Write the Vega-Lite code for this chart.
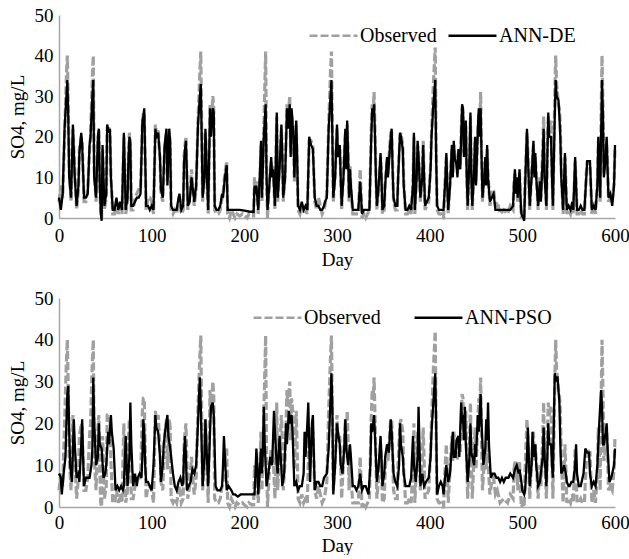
{
"$schema": "https://vega.github.io/schema/vega-lite/v6.json",
"background": "white",
"padding": {"left": 8, "top": 6, "right": 0, "bottom": 0},
"spacing": 20,
"config": {
  "font": "Liberation Serif",
  "view": {"stroke": null},
  "axis": {"grid": false, "ticks": false, "domainColor": "#a6a6a6", "domainWidth": 1.5, "labelFont": "Liberation Serif", "labelFontSize": 19, "labelColor": "#000000", "titleFont": "Liberation Serif", "titleFontSize": 19, "titleFontWeight": "normal", "titleColor": "#000000"},
  "legend": {"labelFont": "Liberation Serif", "labelFontSize": 20, "labelColor": "#000000", "symbolType": "stroke", "symbolSize": 2300, "symbolStrokeWidth": 2.6, "labelOffset": 1, "title": null, "direction": "horizontal", "orient": "none"}
},
"resolve": {"scale": {"color": "independent"}, "legend": {"color": "independent"}},
"datasets": {
"obs": [{"d":0,"v":4},{"d":2,"v":8},{"d":4,"v":5},{"d":6,"v":20},{"d":8,"v":35},{"d":9,"v":40},{"d":10,"v":28},{"d":11,"v":12},{"d":13,"v":4},{"d":15,"v":22},{"d":17,"v":12},{"d":19,"v":2},{"d":21,"v":7},{"d":22,"v":17},{"d":24,"v":20},{"d":25,"v":19},{"d":27,"v":4},{"d":29,"v":4},{"d":31,"v":7},{"d":33,"v":17},{"d":34,"v":20},{"d":36,"v":35},{"d":37,"v":40},{"d":38,"v":12},{"d":40,"v":4},{"d":42,"v":19},{"d":43,"v":22},{"d":44,"v":9},{"d":45,"v":1},{"d":46,"v":0},{"d":47,"v":17},{"d":48,"v":11},{"d":49,"v":2},{"d":51,"v":5},{"d":52,"v":22},{"d":54,"v":22},{"d":55,"v":21},{"d":56,"v":11},{"d":58,"v":1},{"d":60,"v":1},{"d":62,"v":4},{"d":64,"v":1},{"d":66,"v":3},{"d":68,"v":1},{"d":70,"v":20},{"d":72,"v":1},{"d":74,"v":4},{"d":75,"v":16},{"d":76,"v":21},{"d":77,"v":19},{"d":78,"v":2},{"d":80,"v":2},{"d":82,"v":5},{"d":84,"v":6},{"d":86,"v":7},{"d":88,"v":7},{"d":90,"v":23},{"d":91,"v":26},{"d":92,"v":26},{"d":93,"v":14},{"d":94,"v":2},{"d":96,"v":5},{"d":98,"v":5},{"d":100,"v":4},{"d":102,"v":1},{"d":104,"v":23},{"d":105,"v":21},{"d":107,"v":22},{"d":109,"v":14},{"d":110,"v":6},{"d":112,"v":4},{"d":114,"v":17},{"d":116,"v":21},{"d":117,"v":9},{"d":119,"v":21},{"d":120,"v":19},{"d":121,"v":2},{"d":123,"v":1},{"d":125,"v":2},{"d":127,"v":1},{"d":129,"v":4},{"d":130,"v":5},{"d":132,"v":1},{"d":134,"v":2},{"d":135,"v":15},{"d":136,"v":18},{"d":137,"v":20},{"d":139,"v":2},{"d":141,"v":5},{"d":143,"v":12},{"d":145,"v":5},{"d":146,"v":3},{"d":148,"v":7},{"d":150,"v":24},{"d":152,"v":36},{"d":153,"v":41},{"d":154,"v":22},{"d":155,"v":4},{"d":157,"v":11},{"d":158,"v":21},{"d":160,"v":7},{"d":161,"v":1},{"d":163,"v":28},{"d":164,"v":22},{"d":166,"v":30},{"d":167,"v":27},{"d":168,"v":2},{"d":170,"v":1},{"d":172,"v":1},{"d":174,"v":2},{"d":176,"v":5},{"d":177,"v":6},{"d":179,"v":11},{"d":181,"v":14},{"d":182,"v":1},{"d":184,"v":0},{"d":186,"v":2},{"d":188,"v":1},{"d":190,"v":0},{"d":192,"v":1},{"d":195,"v":0.5},{"d":198,"v":1},{"d":200,"v":0.5},{"d":203,"v":0},{"d":205,"v":1},{"d":208,"v":0.5},{"d":210,"v":0.5},{"d":211,"v":10},{"d":212,"v":7},{"d":213,"v":9},{"d":215,"v":1},{"d":217,"v":11},{"d":218,"v":18},{"d":219,"v":4},{"d":221,"v":22},{"d":223,"v":41},{"d":224,"v":12},{"d":225,"v":0},{"d":227,"v":9},{"d":229,"v":14},{"d":230,"v":11},{"d":231,"v":13},{"d":233,"v":2},{"d":235,"v":25},{"d":236,"v":4},{"d":238,"v":13},{"d":240,"v":22},{"d":241,"v":16},{"d":242,"v":4},{"d":244,"v":11},{"d":246,"v":28},{"d":247,"v":24},{"d":249,"v":30},{"d":250,"v":16},{"d":251,"v":26},{"d":253,"v":21},{"d":254,"v":9},{"d":256,"v":23},{"d":257,"v":14},{"d":258,"v":2},{"d":260,"v":1},{"d":262,"v":3},{"d":264,"v":1},{"d":266,"v":2},{"d":268,"v":1},{"d":270,"v":19},{"d":272,"v":19},{"d":274,"v":18},{"d":276,"v":4},{"d":278,"v":2},{"d":280,"v":5},{"d":282,"v":3},{"d":284,"v":1},{"d":286,"v":2},{"d":287,"v":3},{"d":289,"v":6},{"d":291,"v":23},{"d":293,"v":36},{"d":294,"v":41},{"d":295,"v":22},{"d":296,"v":4},{"d":298,"v":11},{"d":300,"v":22},{"d":301,"v":16},{"d":303,"v":17},{"d":304,"v":11},{"d":305,"v":2},{"d":307,"v":11},{"d":309,"v":21},{"d":310,"v":13},{"d":311,"v":23},{"d":312,"v":16},{"d":313,"v":4},{"d":314,"v":13},{"d":315,"v":7},{"d":317,"v":1},{"d":319,"v":1},{"d":321,"v":1},{"d":323,"v":1},{"d":325,"v":12},{"d":327,"v":0},{"d":329,"v":1},{"d":331,"v":0},{"d":333,"v":1},{"d":335,"v":2},{"d":337,"v":22},{"d":338,"v":28},{"d":339,"v":26},{"d":340,"v":31},{"d":341,"v":22},{"d":342,"v":11},{"d":343,"v":2},{"d":345,"v":7},{"d":347,"v":15},{"d":348,"v":11},{"d":349,"v":1},{"d":351,"v":2},{"d":352,"v":9},{"d":354,"v":14},{"d":355,"v":11},{"d":357,"v":18},{"d":358,"v":21},{"d":359,"v":21},{"d":360,"v":13},{"d":361,"v":4},{"d":363,"v":2},{"d":365,"v":2},{"d":366,"v":11},{"d":368,"v":20},{"d":369,"v":21},{"d":371,"v":18},{"d":372,"v":9},{"d":374,"v":1},{"d":376,"v":1},{"d":378,"v":2},{"d":380,"v":1},{"d":382,"v":9},{"d":383,"v":20},{"d":384,"v":1},{"d":386,"v":11},{"d":387,"v":18},{"d":388,"v":16},{"d":390,"v":4},{"d":392,"v":11},{"d":393,"v":19},{"d":394,"v":11},{"d":395,"v":2},{"d":397,"v":3},{"d":399,"v":4},{"d":401,"v":13},{"d":402,"v":21},{"d":404,"v":33},{"d":406,"v":42},{"d":407,"v":17},{"d":408,"v":2},{"d":410,"v":1},{"d":412,"v":1},{"d":414,"v":0},{"d":415,"v":0},{"d":417,"v":11},{"d":418,"v":15},{"d":419,"v":9},{"d":420,"v":1},{"d":422,"v":9},{"d":424,"v":17},{"d":425,"v":11},{"d":426,"v":18},{"d":427,"v":16},{"d":429,"v":14},{"d":430,"v":11},{"d":431,"v":16},{"d":433,"v":13},{"d":434,"v":21},{"d":435,"v":27},{"d":436,"v":26},{"d":437,"v":16},{"d":439,"v":23},{"d":440,"v":11},{"d":441,"v":2},{"d":443,"v":14},{"d":444,"v":25},{"d":445,"v":11},{"d":446,"v":2},{"d":448,"v":13},{"d":449,"v":19},{"d":450,"v":9},{"d":452,"v":21},{"d":453,"v":26},{"d":454,"v":22},{"d":455,"v":31},{"d":456,"v":16},{"d":457,"v":4},{"d":459,"v":11},{"d":460,"v":14},{"d":461,"v":9},{"d":462,"v":17},{"d":463,"v":11},{"d":465,"v":3},{"d":467,"v":6},{"d":469,"v":7},{"d":471,"v":3},{"d":473,"v":4},{"d":476,"v":1},{"d":480,"v":2},{"d":484,"v":1},{"d":487,"v":3},{"d":490,"v":2},{"d":491,"v":9},{"d":492,"v":11},{"d":493,"v":7},{"d":494,"v":9},{"d":495,"v":4},{"d":497,"v":11},{"d":498,"v":4},{"d":499,"v":0},{"d":501,"v":1},{"d":502,"v":0},{"d":503,"v":9},{"d":505,"v":21},{"d":506,"v":16},{"d":508,"v":2},{"d":510,"v":11},{"d":512,"v":18},{"d":513,"v":11},{"d":514,"v":15},{"d":515,"v":11},{"d":517,"v":2},{"d":519,"v":10},{"d":520,"v":5},{"d":522,"v":17},{"d":523,"v":25},{"d":524,"v":12},{"d":526,"v":2},{"d":527,"v":17},{"d":528,"v":25},{"d":529,"v":22},{"d":531,"v":24},{"d":532,"v":12},{"d":533,"v":2},{"d":535,"v":30},{"d":536,"v":40},{"d":537,"v":33},{"d":539,"v":28},{"d":540,"v":27},{"d":541,"v":23},{"d":542,"v":12},{"d":544,"v":1},{"d":546,"v":15},{"d":547,"v":9},{"d":548,"v":1},{"d":550,"v":2},{"d":552,"v":1},{"d":554,"v":3},{"d":555,"v":1},{"d":557,"v":14},{"d":558,"v":9},{"d":559,"v":1},{"d":561,"v":1},{"d":563,"v":2},{"d":565,"v":1},{"d":567,"v":1},{"d":569,"v":11},{"d":570,"v":14},{"d":572,"v":13},{"d":573,"v":13},{"d":574,"v":7},{"d":575,"v":1},{"d":577,"v":4},{"d":579,"v":1},{"d":581,"v":9},{"d":582,"v":19},{"d":583,"v":14},{"d":584,"v":4},{"d":585,"v":25},{"d":586,"v":40},{"d":587,"v":28},{"d":588,"v":11},{"d":590,"v":14},{"d":591,"v":19},{"d":592,"v":13},{"d":593,"v":4},{"d":595,"v":5},{"d":597,"v":4},{"d":599,"v":9},{"d":600,"v":17}],
"de": [{"d":0,"v":5},{"d":2,"v":2},{"d":4,"v":6},{"d":6,"v":22},{"d":8,"v":30},{"d":9,"v":34},{"d":10,"v":25},{"d":11,"v":10},{"d":13,"v":5},{"d":15,"v":23},{"d":17,"v":10},{"d":19,"v":3},{"d":21,"v":8},{"d":22,"v":16},{"d":24,"v":21},{"d":25,"v":18},{"d":27,"v":5},{"d":29,"v":5},{"d":31,"v":6},{"d":33,"v":18},{"d":34,"v":20},{"d":36,"v":30},{"d":37,"v":34},{"d":38,"v":10},{"d":40,"v":5},{"d":42,"v":20},{"d":43,"v":22},{"d":44,"v":8},{"d":45,"v":2},{"d":46,"v":-0.7},{"d":47,"v":18},{"d":48,"v":10},{"d":49,"v":3},{"d":51,"v":6},{"d":52,"v":23},{"d":54,"v":21},{"d":55,"v":22},{"d":56,"v":10},{"d":58,"v":2},{"d":60,"v":2},{"d":62,"v":5},{"d":64,"v":2},{"d":66,"v":4},{"d":68,"v":2},{"d":70,"v":21},{"d":72,"v":2},{"d":74,"v":5},{"d":75,"v":15},{"d":76,"v":20},{"d":77,"v":18},{"d":78,"v":3},{"d":80,"v":3},{"d":82,"v":4},{"d":84,"v":5},{"d":86,"v":5},{"d":88,"v":6},{"d":90,"v":24},{"d":91,"v":25},{"d":92,"v":27},{"d":93,"v":15},{"d":94,"v":3},{"d":96,"v":3},{"d":98,"v":2},{"d":100,"v":3},{"d":102,"v":2},{"d":104,"v":22},{"d":105,"v":20},{"d":107,"v":21},{"d":109,"v":15},{"d":110,"v":7},{"d":112,"v":5},{"d":114,"v":18},{"d":116,"v":22},{"d":117,"v":8},{"d":119,"v":22},{"d":120,"v":18},{"d":121,"v":3},{"d":123,"v":2},{"d":125,"v":2},{"d":127,"v":2},{"d":129,"v":5},{"d":130,"v":6},{"d":132,"v":2},{"d":134,"v":3},{"d":135,"v":14},{"d":136,"v":17},{"d":137,"v":19},{"d":139,"v":3},{"d":141,"v":4},{"d":143,"v":10},{"d":145,"v":6},{"d":146,"v":4},{"d":148,"v":8},{"d":150,"v":23},{"d":152,"v":30},{"d":153,"v":33},{"d":154,"v":20},{"d":155,"v":5},{"d":157,"v":10},{"d":158,"v":22},{"d":160,"v":8},{"d":161,"v":2},{"d":163,"v":27},{"d":164,"v":20},{"d":166,"v":27},{"d":167,"v":26},{"d":168,"v":3},{"d":170,"v":2},{"d":172,"v":2},{"d":174,"v":3},{"d":176,"v":6},{"d":177,"v":5},{"d":179,"v":10},{"d":181,"v":13},{"d":182,"v":2},{"d":184,"v":2},{"d":186,"v":2},{"d":188,"v":2},{"d":190,"v":2},{"d":195,"v":2},{"d":200,"v":1.8},{"d":205,"v":1.6},{"d":210,"v":1.5},{"d":211,"v":8},{"d":212,"v":6},{"d":213,"v":8},{"d":215,"v":2},{"d":217,"v":12},{"d":218,"v":19},{"d":219,"v":5},{"d":221,"v":20},{"d":223,"v":28},{"d":224,"v":10},{"d":225,"v":2},{"d":227,"v":8},{"d":229,"v":15},{"d":230,"v":10},{"d":231,"v":12},{"d":233,"v":3},{"d":235,"v":26},{"d":236,"v":5},{"d":238,"v":12},{"d":240,"v":23},{"d":241,"v":15},{"d":242,"v":5},{"d":244,"v":10},{"d":246,"v":27},{"d":247,"v":22},{"d":249,"v":28},{"d":250,"v":15},{"d":251,"v":27},{"d":253,"v":20},{"d":254,"v":10},{"d":256,"v":24},{"d":257,"v":15},{"d":258,"v":3},{"d":260,"v":2},{"d":262,"v":4},{"d":264,"v":2},{"d":266,"v":3},{"d":268,"v":2},{"d":270,"v":20},{"d":272,"v":18},{"d":274,"v":17},{"d":276,"v":5},{"d":278,"v":3},{"d":280,"v":3},{"d":282,"v":2},{"d":284,"v":2},{"d":286,"v":3},{"d":287,"v":4},{"d":289,"v":5},{"d":291,"v":22},{"d":293,"v":30},{"d":294,"v":34},{"d":295,"v":20},{"d":296,"v":5},{"d":298,"v":10},{"d":300,"v":23},{"d":301,"v":15},{"d":303,"v":18},{"d":304,"v":10},{"d":305,"v":3},{"d":307,"v":10},{"d":309,"v":22},{"d":310,"v":12},{"d":311,"v":24},{"d":312,"v":15},{"d":313,"v":5},{"d":314,"v":12},{"d":315,"v":8},{"d":317,"v":2},{"d":319,"v":2},{"d":321,"v":2},{"d":323,"v":2},{"d":325,"v":9},{"d":327,"v":1},{"d":329,"v":2},{"d":331,"v":2},{"d":333,"v":2},{"d":335,"v":2},{"d":337,"v":20},{"d":338,"v":27},{"d":339,"v":25},{"d":340,"v":28},{"d":341,"v":20},{"d":342,"v":10},{"d":343,"v":3},{"d":345,"v":8},{"d":347,"v":16},{"d":348,"v":10},{"d":349,"v":2},{"d":351,"v":3},{"d":352,"v":8},{"d":354,"v":15},{"d":355,"v":10},{"d":357,"v":17},{"d":358,"v":20},{"d":359,"v":22},{"d":360,"v":12},{"d":361,"v":5},{"d":363,"v":3},{"d":365,"v":3},{"d":366,"v":10},{"d":368,"v":21},{"d":369,"v":20},{"d":371,"v":17},{"d":372,"v":8},{"d":374,"v":2},{"d":376,"v":2},{"d":378,"v":3},{"d":380,"v":2},{"d":382,"v":8},{"d":383,"v":21},{"d":384,"v":2},{"d":386,"v":10},{"d":387,"v":19},{"d":388,"v":15},{"d":390,"v":5},{"d":392,"v":10},{"d":393,"v":18},{"d":394,"v":10},{"d":395,"v":3},{"d":397,"v":4},{"d":399,"v":5},{"d":401,"v":12},{"d":402,"v":20},{"d":404,"v":28},{"d":406,"v":34},{"d":407,"v":15},{"d":408,"v":3},{"d":410,"v":2},{"d":412,"v":2},{"d":414,"v":2},{"d":415,"v":2},{"d":417,"v":10},{"d":418,"v":16},{"d":419,"v":8},{"d":420,"v":2},{"d":422,"v":8},{"d":424,"v":18},{"d":425,"v":10},{"d":426,"v":19},{"d":427,"v":15},{"d":429,"v":13},{"d":430,"v":10},{"d":431,"v":17},{"d":433,"v":12},{"d":434,"v":20},{"d":435,"v":28},{"d":436,"v":27},{"d":437,"v":15},{"d":439,"v":24},{"d":440,"v":10},{"d":441,"v":3},{"d":443,"v":15},{"d":444,"v":26},{"d":445,"v":10},{"d":446,"v":3},{"d":448,"v":12},{"d":449,"v":20},{"d":450,"v":8},{"d":452,"v":22},{"d":453,"v":27},{"d":454,"v":20},{"d":455,"v":27},{"d":456,"v":15},{"d":457,"v":5},{"d":459,"v":10},{"d":460,"v":15},{"d":461,"v":8},{"d":462,"v":18},{"d":463,"v":10},{"d":465,"v":4},{"d":467,"v":5},{"d":469,"v":6},{"d":471,"v":2},{"d":473,"v":2},{"d":476,"v":2},{"d":480,"v":2},{"d":484,"v":2},{"d":487,"v":2},{"d":490,"v":3},{"d":491,"v":8},{"d":492,"v":12},{"d":493,"v":6},{"d":494,"v":10},{"d":495,"v":5},{"d":497,"v":12},{"d":498,"v":5},{"d":499,"v":1},{"d":501,"v":0},{"d":502,"v":-0.7},{"d":503,"v":8},{"d":505,"v":22},{"d":506,"v":15},{"d":508,"v":3},{"d":510,"v":10},{"d":512,"v":19},{"d":513,"v":10},{"d":514,"v":16},{"d":515,"v":10},{"d":517,"v":3},{"d":519,"v":9},{"d":520,"v":4},{"d":522,"v":15},{"d":523,"v":22},{"d":524,"v":10},{"d":526,"v":3},{"d":527,"v":15},{"d":528,"v":26},{"d":529,"v":20},{"d":531,"v":20},{"d":532,"v":10},{"d":533,"v":3},{"d":535,"v":25},{"d":536,"v":34},{"d":537,"v":30},{"d":539,"v":29},{"d":540,"v":25},{"d":541,"v":20},{"d":542,"v":10},{"d":544,"v":2},{"d":546,"v":16},{"d":547,"v":8},{"d":548,"v":2},{"d":550,"v":3},{"d":552,"v":2},{"d":554,"v":4},{"d":555,"v":2},{"d":557,"v":15},{"d":558,"v":8},{"d":559,"v":2},{"d":561,"v":2},{"d":563,"v":3},{"d":565,"v":2},{"d":567,"v":2},{"d":569,"v":10},{"d":570,"v":14},{"d":572,"v":14},{"d":573,"v":14},{"d":574,"v":8},{"d":575,"v":2},{"d":577,"v":3},{"d":579,"v":2},{"d":581,"v":8},{"d":582,"v":20},{"d":583,"v":15},{"d":584,"v":5},{"d":585,"v":20},{"d":586,"v":34},{"d":587,"v":25},{"d":588,"v":10},{"d":590,"v":15},{"d":591,"v":20},{"d":592,"v":12},{"d":593,"v":5},{"d":595,"v":6},{"d":597,"v":3},{"d":599,"v":8},{"d":600,"v":18}],
"pso": [{"d":0,"v":8},{"d":2,"v":7},{"d":3,"v":3},{"d":5,"v":8},{"d":7,"v":12},{"d":8,"v":20},{"d":9,"v":27},{"d":10,"v":29},{"d":11,"v":18},{"d":12,"v":10},{"d":14,"v":6},{"d":16,"v":21},{"d":17,"v":15},{"d":19,"v":7},{"d":21,"v":8},{"d":22,"v":6},{"d":24,"v":15},{"d":25,"v":21},{"d":26,"v":12},{"d":27,"v":5},{"d":29,"v":7},{"d":31,"v":7},{"d":33,"v":7},{"d":35,"v":10},{"d":36,"v":14},{"d":37,"v":31},{"d":38,"v":20},{"d":40,"v":10},{"d":42,"v":12},{"d":43,"v":20},{"d":44,"v":15},{"d":46,"v":14},{"d":48,"v":7},{"d":50,"v":8},{"d":51,"v":10},{"d":53,"v":18},{"d":54,"v":15},{"d":56,"v":22},{"d":57,"v":18},{"d":59,"v":14},{"d":61,"v":4},{"d":63,"v":5},{"d":65,"v":4},{"d":67,"v":5},{"d":69,"v":4},{"d":70,"v":5},{"d":72,"v":17},{"d":73,"v":10},{"d":74,"v":5},{"d":76,"v":12},{"d":77,"v":25},{"d":78,"v":15},{"d":80,"v":5},{"d":82,"v":8},{"d":84,"v":5},{"d":85,"v":7},{"d":87,"v":8},{"d":89,"v":7},{"d":90,"v":12},{"d":91,"v":21},{"d":92,"v":18},{"d":93,"v":10},{"d":94,"v":6},{"d":96,"v":6},{"d":98,"v":5},{"d":100,"v":4},{"d":102,"v":10},{"d":104,"v":22},{"d":105,"v":19},{"d":107,"v":18},{"d":109,"v":12},{"d":110,"v":6},{"d":112,"v":10},{"d":113,"v":15},{"d":115,"v":19},{"d":117,"v":22},{"d":118,"v":17},{"d":120,"v":14},{"d":122,"v":10},{"d":123,"v":8},{"d":125,"v":5},{"d":127,"v":4},{"d":129,"v":6},{"d":131,"v":7},{"d":133,"v":5},{"d":134,"v":6},{"d":135,"v":13},{"d":136,"v":17},{"d":137,"v":12},{"d":138,"v":4},{"d":140,"v":5},{"d":142,"v":6},{"d":144,"v":9},{"d":146,"v":8},{"d":148,"v":10},{"d":150,"v":20},{"d":151,"v":26},{"d":152,"v":31},{"d":153,"v":24},{"d":155,"v":5},{"d":157,"v":12},{"d":158,"v":21},{"d":159,"v":15},{"d":161,"v":5},{"d":163,"v":18},{"d":164,"v":24},{"d":166,"v":25},{"d":167,"v":22},{"d":169,"v":5},{"d":171,"v":4},{"d":174,"v":4},{"d":176,"v":5},{"d":177,"v":10},{"d":178,"v":17},{"d":179,"v":12},{"d":181,"v":4},{"d":183,"v":5},{"d":186,"v":4},{"d":188,"v":3},{"d":190,"v":3},{"d":193,"v":2.5},{"d":196,"v":3},{"d":200,"v":3},{"d":204,"v":3},{"d":208,"v":3},{"d":211,"v":3},{"d":212,"v":8},{"d":213,"v":14},{"d":214,"v":10},{"d":215,"v":3},{"d":217,"v":10},{"d":218,"v":14},{"d":219,"v":8},{"d":220,"v":13},{"d":221,"v":24},{"d":222,"v":15},{"d":224,"v":5},{"d":226,"v":8},{"d":228,"v":12},{"d":230,"v":10},{"d":232,"v":23},{"d":233,"v":18},{"d":235,"v":10},{"d":236,"v":8},{"d":238,"v":17},{"d":239,"v":13},{"d":241,"v":5},{"d":243,"v":8},{"d":245,"v":20},{"d":246,"v":15},{"d":248,"v":23},{"d":249,"v":20},{"d":251,"v":22},{"d":252,"v":18},{"d":254,"v":5},{"d":256,"v":6},{"d":258,"v":4},{"d":260,"v":5},{"d":262,"v":5},{"d":264,"v":8},{"d":265,"v":18},{"d":266,"v":12},{"d":268,"v":20},{"d":269,"v":25},{"d":270,"v":15},{"d":271,"v":6},{"d":273,"v":20},{"d":274,"v":22},{"d":276,"v":4},{"d":278,"v":6},{"d":280,"v":6},{"d":282,"v":5},{"d":284,"v":5},{"d":286,"v":7},{"d":289,"v":8},{"d":291,"v":14},{"d":292,"v":20},{"d":294,"v":32},{"d":295,"v":24},{"d":296,"v":3},{"d":298,"v":10},{"d":300,"v":20},{"d":301,"v":18},{"d":303,"v":15},{"d":304,"v":10},{"d":306,"v":8},{"d":308,"v":15},{"d":309,"v":21},{"d":310,"v":14},{"d":312,"v":10},{"d":314,"v":15},{"d":315,"v":12},{"d":317,"v":5},{"d":319,"v":5},{"d":321,"v":4},{"d":323,"v":5},{"d":325,"v":8},{"d":326,"v":6},{"d":327,"v":4},{"d":329,"v":5},{"d":331,"v":5},{"d":334,"v":3},{"d":336,"v":10},{"d":337,"v":20},{"d":338,"v":18},{"d":340,"v":22},{"d":341,"v":17},{"d":343,"v":6},{"d":345,"v":10},{"d":347,"v":17},{"d":348,"v":12},{"d":349,"v":5},{"d":351,"v":8},{"d":352,"v":12},{"d":354,"v":15},{"d":356,"v":13},{"d":358,"v":21},{"d":359,"v":18},{"d":361,"v":8},{"d":363,"v":6},{"d":365,"v":5},{"d":367,"v":10},{"d":368,"v":20},{"d":369,"v":15},{"d":371,"v":12},{"d":372,"v":8},{"d":374,"v":5},{"d":376,"v":5},{"d":378,"v":5},{"d":380,"v":7},{"d":382,"v":17},{"d":383,"v":10},{"d":385,"v":6},{"d":387,"v":12},{"d":388,"v":24},{"d":389,"v":15},{"d":390,"v":5},{"d":392,"v":8},{"d":394,"v":5},{"d":396,"v":6},{"d":399,"v":7},{"d":401,"v":12},{"d":402,"v":18},{"d":404,"v":25},{"d":406,"v":32},{"d":407,"v":20},{"d":408,"v":3},{"d":410,"v":5},{"d":412,"v":6},{"d":414,"v":5},{"d":415,"v":3},{"d":417,"v":8},{"d":418,"v":10},{"d":420,"v":6},{"d":422,"v":8},{"d":424,"v":15},{"d":425,"v":18},{"d":426,"v":12},{"d":428,"v":12},{"d":429,"v":16},{"d":431,"v":17},{"d":432,"v":12},{"d":434,"v":25},{"d":435,"v":20},{"d":436,"v":22},{"d":437,"v":16},{"d":438,"v":24},{"d":439,"v":15},{"d":441,"v":6},{"d":443,"v":12},{"d":444,"v":20},{"d":445,"v":13},{"d":446,"v":12},{"d":448,"v":10},{"d":449,"v":15},{"d":450,"v":12},{"d":452,"v":22},{"d":453,"v":18},{"d":455,"v":27},{"d":456,"v":20},{"d":458,"v":10},{"d":460,"v":14},{"d":461,"v":21},{"d":462,"v":16},{"d":463,"v":25},{"d":464,"v":15},{"d":466,"v":7},{"d":468,"v":8},{"d":470,"v":8},{"d":472,"v":7},{"d":474,"v":7},{"d":476,"v":6},{"d":478,"v":7},{"d":480,"v":6},{"d":482,"v":7},{"d":485,"v":7},{"d":487,"v":8},{"d":490,"v":7},{"d":492,"v":9},{"d":494,"v":10},{"d":496,"v":8},{"d":497,"v":9},{"d":499,"v":6},{"d":500,"v":4},{"d":502,"v":3},{"d":503,"v":4},{"d":505,"v":12},{"d":506,"v":19},{"d":507,"v":12},{"d":508,"v":5},{"d":510,"v":10},{"d":511,"v":18},{"d":512,"v":12},{"d":514,"v":15},{"d":515,"v":10},{"d":517,"v":5},{"d":519,"v":6},{"d":520,"v":8},{"d":522,"v":12},{"d":523,"v":19},{"d":524,"v":12},{"d":526,"v":5},{"d":527,"v":12},{"d":528,"v":20},{"d":529,"v":15},{"d":531,"v":15},{"d":532,"v":10},{"d":533,"v":7},{"d":534,"v":20},{"d":535,"v":32},{"d":536,"v":30},{"d":537,"v":31},{"d":538,"v":31},{"d":539,"v":28},{"d":540,"v":25},{"d":541,"v":15},{"d":542,"v":8},{"d":544,"v":9},{"d":545,"v":10},{"d":547,"v":8},{"d":548,"v":6},{"d":550,"v":5},{"d":551,"v":5},{"d":553,"v":6},{"d":555,"v":6},{"d":557,"v":10},{"d":558,"v":15},{"d":559,"v":8},{"d":561,"v":5},{"d":563,"v":5},{"d":564,"v":6},{"d":566,"v":8},{"d":568,"v":14},{"d":570,"v":13},{"d":572,"v":13},{"d":573,"v":8},{"d":575,"v":5},{"d":577,"v":6},{"d":579,"v":5},{"d":581,"v":10},{"d":582,"v":15},{"d":583,"v":20},{"d":585,"v":28},{"d":586,"v":24},{"d":587,"v":15},{"d":588,"v":15},{"d":590,"v":18},{"d":591,"v":20},{"d":592,"v":14},{"d":594,"v":6},{"d":596,"v":7},{"d":597,"v":8},{"d":599,"v":10},{"d":600,"v":14}]
},
"vconcat": [
 {
  "width": 556, "height": 203,
  "layer": [
   {"data": {"name": "obs"},
    "mark": {"type": "line", "strokeWidth": 3.2, "strokeDash": [8, 3]},
    "encoding": {
     "x": {"field": "d", "type": "quantitative", "scale": {"domain": [0, 600], "nice": false}, "axis": {"values": [0, 100, 200, 300, 400, 500, 600], "title": "Day", "labelPadding": 8, "titlePadding": 5, "labelFlush": false}},
     "y": {"field": "v", "type": "quantitative", "scale": {"domain": [0, 50], "nice": false}, "axis": {"values": [0, 10, 20, 30, 40, 50], "title": "SO4, mg/L", "labelPadding": 6, "titlePadding": 7}},
     "color": {"datum": "Observed", "scale": {"domain": ["Observed", "ANN-DE"], "range": ["#a0a0a0", "#000000"]},
      "legend": {"legendX": 249, "legendY": -5, "columnPadding": 6, "encode": {"symbols": {"update": {"strokeDash": {"signal": "datum.value == 'Observed' ? [8, 3] : [1, 0]"}}}}}}
    }},
   {"data": {"name": "de"},
    "mark": {"type": "line", "strokeWidth": 2.3},
    "encoding": {
     "x": {"field": "d", "type": "quantitative"},
     "y": {"field": "v", "type": "quantitative"},
     "color": {"datum": "ANN-DE"}
    }}
  ]
 },
 {
  "width": 556, "height": 209,
  "layer": [
   {"data": {"name": "obs"},
    "mark": {"type": "line", "strokeWidth": 3.2, "strokeDash": [8, 3]},
    "encoding": {
     "x": {"field": "d", "type": "quantitative", "scale": {"domain": [0, 600], "nice": false}, "axis": {"values": [0, 100, 200, 300, 400, 500, 600], "title": "Day", "labelPadding": 6, "titlePadding": 4, "labelFlush": false}},
     "y": {"field": "v", "type": "quantitative", "scale": {"domain": [0, 50], "nice": false}, "axis": {"values": [0, 10, 20, 30, 40, 50], "title": "SO4, mg/L", "labelPadding": 6, "titlePadding": 7}},
     "color": {"datum": "Observed", "scale": {"domain": ["Observed", "ANN-PSO"], "range": ["#a0a0a0", "#000000"]},
      "legend": {"legendX": 193, "legendY": -6, "columnPadding": 28, "encode": {"symbols": {"update": {"strokeDash": {"signal": "datum.value == 'Observed' ? [8, 3] : [1, 0]"}}}}}}
    }},
   {"data": {"name": "pso"},
    "mark": {"type": "line", "strokeWidth": 2.3},
    "encoding": {
     "x": {"field": "d", "type": "quantitative"},
     "y": {"field": "v", "type": "quantitative"},
     "color": {"datum": "ANN-PSO"}
    }}
  ]
 }
]
}
